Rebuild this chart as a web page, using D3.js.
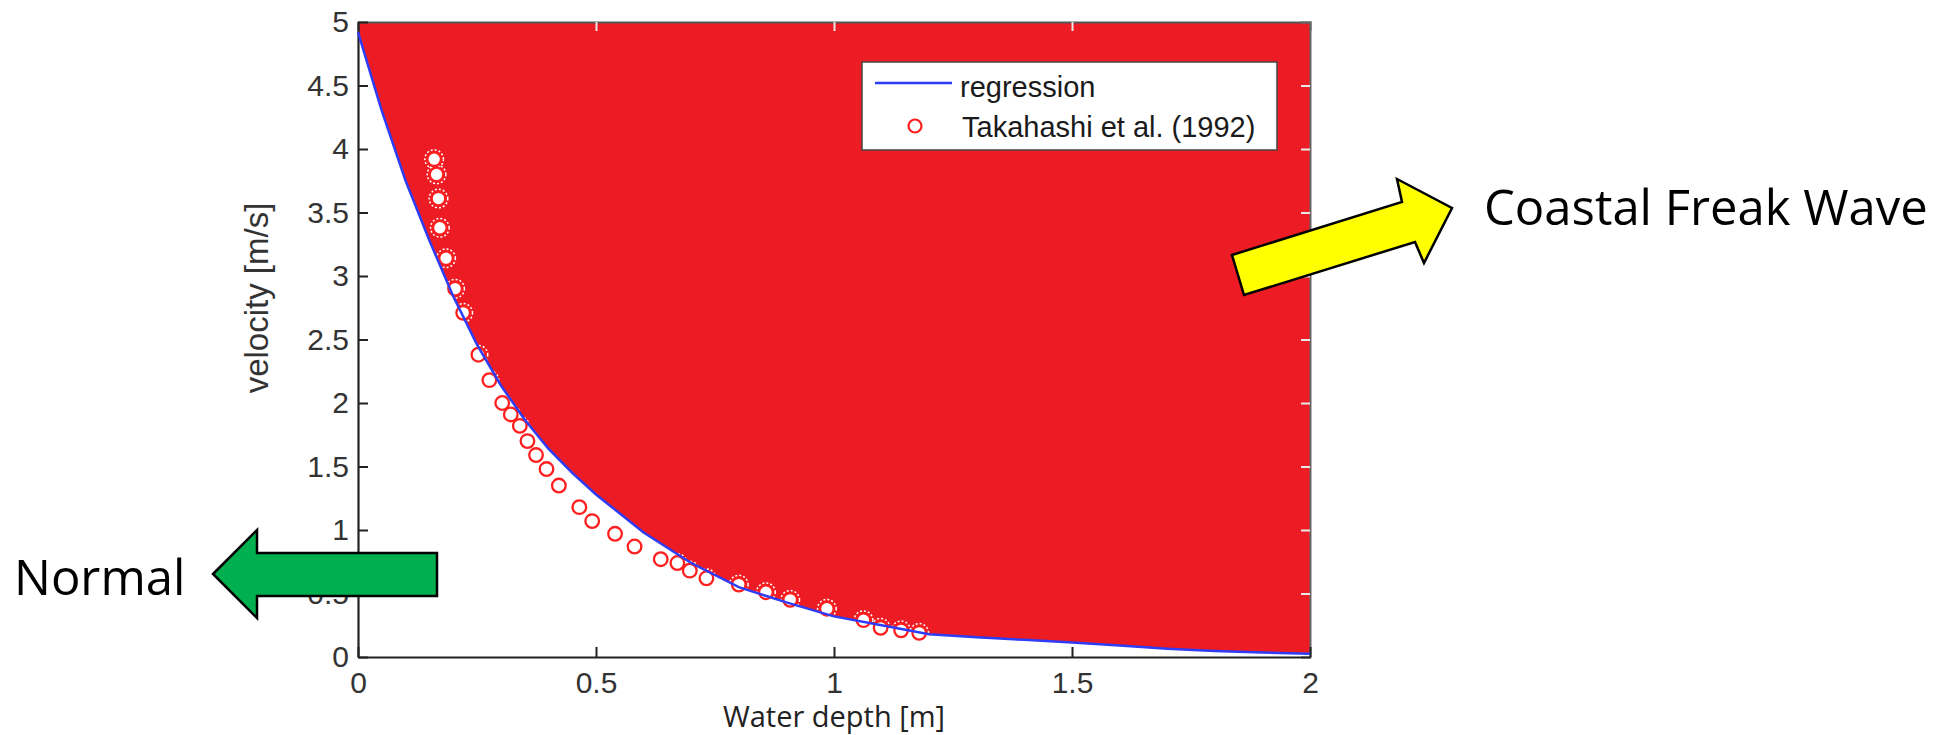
<!DOCTYPE html>
<html>
<head>
<meta charset="utf-8">
<script src="https://cdn.jsdelivr.net/npm/d3@7"></script>
<style>
    body { margin: 0; background: #fff; }
    .tick text { font-family: 'Liberation Sans', Arial, sans-serif; font-size: 30px; fill: #333; }
    .legend text { font-family: 'Liberation Sans', Arial, sans-serif; font-size: 29px; fill: #1a1a1a; }
    .note { font-family: 'Open Sans', sans-serif; font-size: 49px; fill: #000; }
</style>
</head>
<body>
<div id="plot"></div>
<script>
// x ticks / y ticks
var depthTicks = [0, 0.5, 1, 1.5, 2];
var velocityTicks = [0, 0.5, 1, 1.5, 2, 2.5, 3, 3.5, 4, 4.5, 5];

// regression curve
var regDepth = [0, 0.05, 0.1, 0.15, 0.2, 0.25, 0.3, 0.35, 0.4, 0.45, 0.5, 0.6, 0.7, 0.8, 0.9, 1.0,
    1.1, 1.2, 1.3, 1.4, 1.5, 1.6, 1.7, 1.8, 1.9, 2.0];
var regVelocity = [4.92, 4.3, 3.75, 3.28, 2.84, 2.46, 2.14, 1.87, 1.64, 1.45, 1.28, 0.98, 0.74, 0.55, 0.43, 0.32,
    0.25, 0.18, 0.155, 0.135, 0.115, 0.09, 0.065, 0.048, 0.036, 0.025];

// Takahashi et al. (1992)
var obsDepth = [0.160, 0.165, 0.169, 0.172, 0.185, 0.204, 0.221, 0.253, 0.276, 0.303, 0.321, 0.340,
    0.356, 0.374, 0.396, 0.422, 0.465, 0.492, 0.540, 0.581, 0.636, 0.671, 0.697, 0.732,
    0.800, 0.857, 0.908, 0.985, 1.062, 1.098, 1.141, 1.179];
var obsVelocity = [3.92, 3.80, 3.61, 3.38, 3.14, 2.90, 2.71, 2.38, 2.18, 2.00, 1.91, 1.82,
    1.70, 1.59, 1.48, 1.35, 1.18, 1.07, 0.97, 0.87, 0.77, 0.74, 0.68, 0.62,
    0.57, 0.51, 0.45, 0.38, 0.29, 0.23, 0.21, 0.19];

var regression = regDepth.map(function(d, i) { return {depth: d, v: regVelocity[i]}; });
var observed = obsDepth.map(function(d, i) { return {depth: d, v: obsVelocity[i]}; });

var margin = {top: 22, left: 358},
    plotWidth = 952,
    plotHeight = 635,
    width = 1951,
    height = 735;

var xScale = d3.scaleLinear()
    .domain([0, 2])
    .range([0, plotWidth]);

var yScale = d3.scaleLinear()
    .domain([0, 5])
    .range([plotHeight, 0]);

var svg = d3.select('#plot')
    .append('svg')
    .attr('width', width)
    .attr('height', height);

var g = svg.append('g')
    .attr('transform', 'translate(' + margin.left + ',' + margin.top + ')');

// red region above the regression line
var area = d3.area()
    .x(function(d) { return xScale(d.depth); })
    .y0(yScale(5))
    .y1(function(d) { return yScale(d.v); });

g.append('path')
    .datum(regression)
    .attr('d', area)
    .attr('fill', '#ed1c24');

// frame ticks over the red
g.append('g')
    .call(d3.axisTop(xScale).tickValues(depthTicks.slice(1, -1)).tickSize(-9).tickFormat(''))
    .call(function(s) { s.select('.domain').attr('stroke', '#555').attr('stroke-width', 2); })
    .call(function(s) { s.selectAll('.tick line').attr('stroke', '#e8e8e8').attr('stroke-width', 2); });

g.append('g')
    .attr('transform', 'translate(' + plotWidth + ',0)')
    .call(d3.axisRight(yScale).tickValues(velocityTicks.slice(1, -1)).tickSize(-9).tickFormat(''))
    .call(function(s) { s.select('.domain').attr('stroke', '#666').attr('stroke-width', 2); })
    .call(function(s) { s.selectAll('.tick line').attr('stroke', '#e8e8e8').attr('stroke-width', 2); });

g.append('g')
    .attr('transform', 'translate(0,' + plotHeight + ')')
    .call(d3.axisBottom(xScale).tickValues(depthTicks).tickSize(-10).tickSizeOuter(0).tickPadding(15)
        .tickFormat(function(d) { return d; }))
    .call(function(s) { s.select('.domain').attr('stroke', '#222').attr('stroke-width', 2.2); })
    .call(function(s) { s.selectAll('.tick line').attr('stroke', '#222').attr('stroke-width', 2); });

g.append('g')
    .call(d3.axisLeft(yScale).tickValues(velocityTicks).tickSize(-10).tickSizeOuter(0).tickPadding(9)
        .tickFormat(function(d) { return d; }))
    .call(function(s) { s.select('.domain').attr('stroke', '#222').attr('stroke-width', 2.2); })
    .call(function(s) { s.selectAll('.tick line').attr('stroke', '#222').attr('stroke-width', 2); });

// observations
var dots = g.append('g').classed('dots', true);

dots.selectAll('circle.halo')
    .data(observed)
    .enter()
    .append('circle')
    .classed('halo', true)
    .attr('cx', function(d) { return xScale(d.depth); })
    .attr('cy', function(d) { return yScale(d.v); })
    .attr('r', 9.3)
    .attr('fill', 'none')
    .attr('stroke', '#fff')
    .attr('stroke-width', 1.5)
    .attr('stroke-dasharray', '2,2');

dots.selectAll('circle.dot')
    .data(observed)
    .enter()
    .append('circle')
    .classed('dot', true)
    .attr('cx', function(d) { return xScale(d.depth); })
    .attr('cy', function(d) { return yScale(d.v); })
    .attr('r', 6.8)
    .attr('fill', '#fff')
    .attr('stroke', '#ff1f1f')
    .attr('stroke-width', 2.3);

var line = d3.line()
    .x(function(d) { return xScale(d.depth); })
    .y(function(d) { return yScale(d.v); });

g.append('path')
    .datum(regression)
    .attr('d', line)
    .attr('fill', 'none')
    .attr('stroke', '#2f3cf5')
    .attr('stroke-width', 2.5);

// axis titles
svg.append('text')
    .attr('transform', 'translate(268,298) rotate(-90)')
    .attr('text-anchor', 'middle')
    .style('font-family', "'Liberation Sans', Arial, sans-serif")
    .style('font-size', '33px')
    .style('fill', '#333')
    .text('velocity  [m/s]');

svg.append('text')
    .attr('x', 834)
    .attr('y', 727)
    .attr('text-anchor', 'middle')
    .style('font-family', "'Open Sans', sans-serif")
    .style('font-size', '29px')
    .style('fill', '#222')
    .text('Water depth [m]');

// legend
var legend = svg.append('g').classed('legend', true);

legend.append('rect')
    .attr('x', 862)
    .attr('y', 62)
    .attr('width', 415)
    .attr('height', 88)
    .attr('fill', '#fff')
    .attr('stroke', '#444')
    .attr('stroke-width', 1.5);

legend.append('line')
    .attr('x1', 875)
    .attr('y1', 83)
    .attr('x2', 952)
    .attr('y2', 83)
    .attr('stroke', '#2f3cf5')
    .attr('stroke-width', 2.5);

legend.append('circle')
    .attr('cx', 915)
    .attr('cy', 126)
    .attr('r', 6.5)
    .attr('fill', 'none')
    .attr('stroke', '#ff1f1f')
    .attr('stroke-width', 2.2);

legend.append('text')
    .attr('x', 960)
    .attr('y', 97)
    .text('regression');

legend.append('text')
    .attr('x', 962)
    .attr('y', 137)
    .text('Takahashi et al. (1992)');

// annotation arrows
svg.append('path')
    .attr('d', 'M213,574 L257,530 L257,553 L437,553 L437,596 L257,596 L257,618 Z')
    .attr('fill', '#00b050')
    .attr('stroke', '#000')
    .attr('stroke-width', 2.5)
    .attr('stroke-linejoin', 'miter');

svg.append('path')
    .attr('d', 'M1232,255 L1402,202 L1397,179 L1452,208 L1424,263 L1415,242 L1244,295 Z')
    .attr('fill', '#ffff00')
    .attr('stroke', '#000')
    .attr('stroke-width', 2.5)
    .attr('stroke-linejoin', 'miter');

svg.append('text')
    .classed('note', true)
    .attr('x', 14)
    .attr('y', 595)
    .text('Normal');

svg.append('text')
    .classed('note', true)
    .attr('x', 1484)
    .attr('y', 225)
    .text('Coastal Freak Wave');
</script>
</body>
</html>
